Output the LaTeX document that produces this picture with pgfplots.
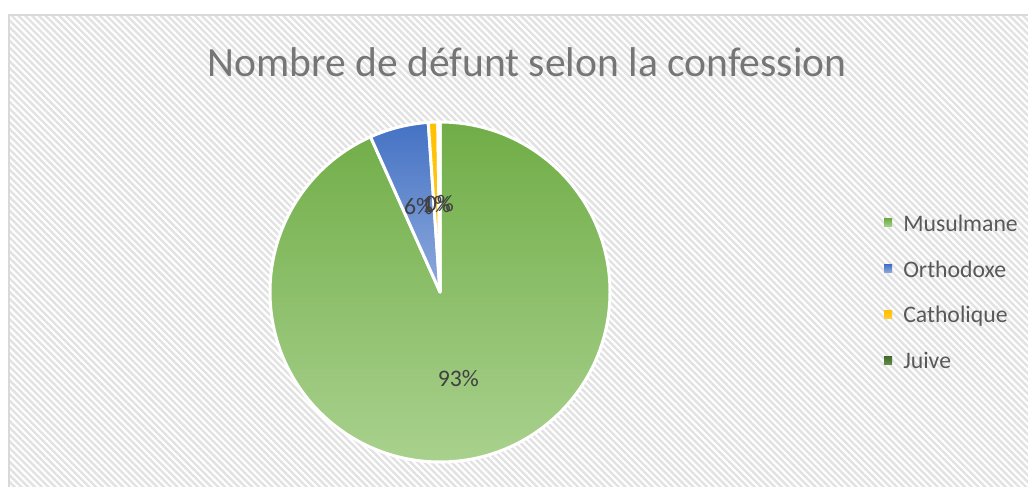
\documentclass[border=0pt]{standalone}
\usepackage{pgfplots}
\pgfplotsset{compat=1.18}
\usepackage{pgfplotstable}
\usepackage{fontspec}
\setmainfont{Carlito}
\usetikzlibrary{patterns.meta}

\definecolor{musT}{RGB}{112,173,71}
\definecolor{musB}{RGB}{169,209,142}
\definecolor{ortT}{RGB}{68,114,196}
\definecolor{ortB}{RGB}{143,170,220}
\definecolor{catT}{RGB}{255,192,0}
\definecolor{catB}{RGB}{255,204,51}
\definecolor{juiT}{RGB}{67,104,43}
\definecolor{juiB}{RGB}{98,140,68}
\definecolor{hatch}{RGB}{226,226,226}
\definecolor{frame}{RGB}{217,217,217}
\definecolor{titlegray}{RGB}{118,118,118}
\definecolor{textgray}{RGB}{89,89,89}
\definecolor{labelgray}{RGB}{64,64,64}

% share of the dead by confession (percent)
\pgfplotstableread{
name value
Musulmane 93.3
Orthodoxe 5.6
Catholique 0.9
Juive 0.2
}\confession

\begin{document}
\begin{tikzpicture}
\begin{axis}[x=0.75pt, y=0.75pt, xmin=0, xmax=1028, ymin=0, ymax=486,
  hide axis, clip=false]
\pgfplotsextra{
  % background + chart area
  \fill[white] (axis cs:0,0) rectangle (axis cs:1028,486);
  \begin{scope}
    \clip (axis cs:0,0) rectangle (axis cs:1028,486);
    \path[pattern={Lines[angle=-45,distance=3.6pt,line width=1.8pt]}, pattern color=hatch]
      (axis cs:9,-5) rectangle (axis cs:1035,471);
    \draw[frame, line width=1.1pt] (axis cs:9,-5) rectangle (axis cs:1035,471);
  \end{scope}
  \node[anchor=base, inner sep=0pt, font=\fontsize{31.2}{36}\selectfont, text=titlegray]
    at (axis cs:527,409) {Nombre de défunt selon la confession};
  % slices, clockwise from 12 o'clock
  \xdef\cum{0}
  \foreach \i/\ct/\cb in {0/musT/musB,1/ortT/ortB,2/catT/catB,3/juiT/juiB}{
    \pgfplotstablegetelem{\i}{value}\of\confession
    \let\v\pgfplotsretval
    \pgfmathsetmacro\aa{90-3.6*\cum}
    \pgfmathsetmacro\ab{\aa-3.6*\v}
    \shadedraw[top color=\ct, bottom color=\cb, draw=white, line width=2.25pt, line join=round]
      (axis cs:440,194) -- (axis cs:{440+170*cos(\aa)},{194+170*sin(\aa)})
      arc[start angle=\aa, end angle=\ab, radius=127.5pt] -- cycle;
    \pgfmathsetmacro\newcum{\cum+\v}
    \xdef\cum{\newcum}
  }
  % data labels
  \xdef\cum{0}
  \foreach \i in {0,...,3}{
    \pgfplotstablegetelem{\i}{value}\of\confession
    \let\v\pgfplotsretval
    \pgfmathsetmacro\am{90-3.6*(\cum+\v/2)}
    \pgfmathtruncatemacro\pc{round(\v)}
    \node[inner sep=0pt, font=\fontsize{17.8}{20}\selectfont, text=labelgray]
      at (axis cs:{440+88*cos(\am)},{194+88*sin(\am)}) {\pc\%};
    \pgfmathsetmacro\newcum{\cum+\v}
    \xdef\cum{\newcum}
  }
  % legend
  \foreach \i/\ct/\cb in {0/musT/musB,1/ortT/ortB,2/catT/catB,3/juiT/juiB}{
    \pgfplotstablegetelem{\i}{name}\of\confession
    \let\n\pgfplotsretval
    \pgfmathsetmacro\ly{263-45.7*\i}
    \shade[top color=\ct, bottom color=\cb] (axis cs:884,\ly-4) rectangle (axis cs:892,\ly+4);
    \node[anchor=base west, inner sep=0pt, font=\fontsize{17.8}{20}\selectfont, text=textgray]
      at (axis cs:903,\ly-8.5) {\n};
  }
}
\end{axis}
\pgfresetboundingbox
\path (0,0) rectangle (771pt,364.5pt);
\end{tikzpicture}
\end{document}
